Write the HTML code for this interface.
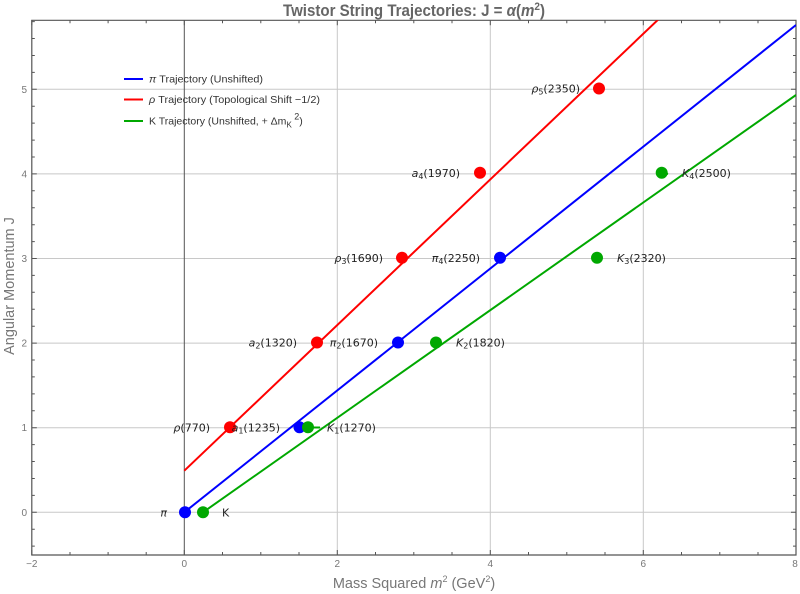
<!DOCTYPE html>
<html><head><meta charset="utf-8"><style>
html,body{margin:0;padding:0;background:#fff;}
svg{display:block;}
.tk{font-family:"Liberation Sans",sans-serif;font-size:10px;fill:#777;}
.lab{font-family:"DejaVu Sans",sans-serif;font-size:11px;fill:#222;}
.leg{font-family:"Liberation Sans",sans-serif;font-size:10.5px;fill:#333;}
</style></head><body>
<svg width="800" height="594" viewBox="0 0 800 594" xmlns="http://www.w3.org/2000/svg">
<defs><clipPath id="pc"><rect x="32" y="20.3" width="764" height="734.7"/></clipPath></defs>
<rect width="800" height="594" fill="#fff"/>
<!-- grid -->
<g stroke="#c8c8c8" stroke-width="1">
<line x1="337.3" y1="20.3" x2="337.3" y2="555"/>
<line x1="490.3" y1="20.3" x2="490.3" y2="555"/>
<line x1="643.3" y1="20.3" x2="643.3" y2="555"/>
<line x1="32" y1="512.3" x2="796" y2="512.3"/>
<line x1="32" y1="427.7" x2="796" y2="427.7"/>
<line x1="32" y1="343.1" x2="796" y2="343.1"/>
<line x1="32" y1="258.5" x2="796" y2="258.5"/>
<line x1="32" y1="173.9" x2="796" y2="173.9"/>
<line x1="32" y1="89.3" x2="796" y2="89.3"/>
</g>
<line x1="184.3" y1="20.3" x2="184.3" y2="555" stroke="#555" stroke-width="1"/>
<!-- frame -->
<g stroke="#555" stroke-width="1.2" fill="none">
<path d="M31.8 20.3 H796 V555 H31.8 Z"/>
</g>
<!-- ticks -->
<g stroke="#555" stroke-width="1">
<path d="M31.8 555v-5M184.3 555v-5M337.3 555v-5M490.3 555v-5M643.3 555v-5M796 555v-5
M31.8 20.3v5M184.3 20.3v5M337.3 20.3v5M490.3 20.3v5M643.3 20.3v5M796 20.3v5"/>
<path d="M70 555v-3M108.1 555v-3M146.2 555v-3M222.5 555v-3M260.8 555v-3M299 555v-3M375.5 555v-3M413.8 555v-3M452 555v-3M528.5 555v-3M566.8 555v-3M605 555v-3M681.5 555v-3M719.8 555v-3M758 555v-3
M70 20.3v3M108.1 20.3v3M146.2 20.3v3M222.5 20.3v3M260.8 20.3v3M299 20.3v3M375.5 20.3v3M413.8 20.3v3M452 20.3v3M528.5 20.3v3M566.8 20.3v3M605 20.3v3M681.5 20.3v3M719.8 20.3v3M758 20.3v3"/>
<path d="M31.8 512.3h5M31.8 427.7h5M31.8 343.1h5M31.8 258.5h5M31.8 173.9h5M31.8 89.3h5
M796 512.3h-5M796 427.7h-5M796 343.1h-5M796 258.5h-5M796 173.9h-5M796 89.3h-5"/>
<path d="M31.8 546.1h3M31.8 529.2h3M31.8 495.4h3M31.8 478.5h3M31.8 461.5h3M31.8 444.6h3M31.8 410.8h3M31.8 393.9h3M31.8 376.9h3M31.8 360h3M31.8 326.2h3M31.8 309.3h3M31.8 292.3h3M31.8 275.4h3M31.8 241.6h3M31.8 224.7h3M31.8 207.7h3M31.8 190.8h3M31.8 157h3M31.8 140.1h3M31.8 123.1h3M31.8 106.2h3M31.8 72.4h3M31.8 55.5h3M31.8 38.5h3M31.8 21.6h3
M796 546.1h-3M796 529.2h-3M796 495.4h-3M796 478.5h-3M796 461.5h-3M796 444.6h-3M796 410.8h-3M796 393.9h-3M796 376.9h-3M796 360h-3M796 326.2h-3M796 309.3h-3M796 292.3h-3M796 275.4h-3M796 241.6h-3M796 224.7h-3M796 207.7h-3M796 190.8h-3M796 157h-3M796 140.1h-3M796 123.1h-3M796 106.2h-3M796 72.4h-3M796 55.5h-3M796 38.5h-3"/>
</g>
<!-- tick labels -->
<g class="tk" text-anchor="middle">
<text x="31.8" y="567">−2</text>
<text x="184.3" y="567">0</text>
<text x="337.3" y="567">2</text>
<text x="490.3" y="567">4</text>
<text x="643.3" y="567">6</text>
<text x="795" y="567">8</text>
</g>
<g class="tk" text-anchor="end">
<text x="27" y="515.8">0</text>
<text x="27" y="431.2">1</text>
<text x="27" y="346.6">2</text>
<text x="27" y="262">3</text>
<text x="27" y="177.4">4</text>
<text x="27" y="92.8">5</text>
</g>
<!-- lines -->
<g clip-path="url(#pc)" stroke-width="2" fill="none">
<line x1="184.3" y1="470.7" x2="684" y2="-5" stroke="#ff0000"/>
<line x1="184.3" y1="512.3" x2="796" y2="25" stroke="#0000ff"/>
<line x1="203" y1="512.3" x2="796" y2="95" stroke="#00a800"/>
<line x1="308" y1="427.5" x2="320" y2="427.5" stroke="#00a800"/>
<line x1="662" y1="172.5" x2="668" y2="174" stroke="#00a800"/>
</g>
<!-- points -->
<g>
<circle cx="185" cy="512.3" r="6" fill="#0000ff"/>
<circle cx="203" cy="512.3" r="6" fill="#00a800"/>
<circle cx="230" cy="427.3" r="6" fill="#ff0000"/>
<circle cx="299.5" cy="427.3" r="6" fill="#0000ff"/>
<circle cx="308" cy="427.3" r="6" fill="#00a800"/>
<circle cx="317" cy="342.5" r="6" fill="#ff0000"/>
<circle cx="398" cy="342.5" r="6" fill="#0000ff"/>
<circle cx="436" cy="342.5" r="6" fill="#00a800"/>
<circle cx="402" cy="257.8" r="6" fill="#ff0000"/>
<circle cx="500" cy="257.8" r="6" fill="#0000ff"/>
<circle cx="597" cy="257.8" r="6" fill="#00a800"/>
<circle cx="480" cy="172.8" r="6" fill="#ff0000"/>
<circle cx="661.7" cy="172.8" r="6" fill="#00a800"/>
<circle cx="599" cy="88.5" r="6" fill="#ff0000"/>
</g>
<!-- data labels -->
<g class="lab">
<text x="167" y="516.3" text-anchor="end" font-style="italic">π</text>
<text x="222" y="516.3">K</text>
<text x="210" y="431.5" text-anchor="end"><tspan font-style="italic">ρ</tspan>(770)</text>
<text x="280" y="431.5" text-anchor="end"><tspan font-style="italic">a</tspan><tspan font-size="8" dy="2">1</tspan><tspan dy="-2">(1235)</tspan></text>
<text x="327" y="431.5"><tspan font-style="italic">K</tspan><tspan font-size="8" dy="2">1</tspan><tspan dy="-2">(1270)</tspan></text>
<text x="297" y="346.5" text-anchor="end"><tspan font-style="italic">a</tspan><tspan font-size="8" dy="2">2</tspan><tspan dy="-2">(1320)</tspan></text>
<text x="378" y="346.5" text-anchor="end"><tspan font-style="italic">π</tspan><tspan font-size="8" dy="2">2</tspan><tspan dy="-2">(1670)</tspan></text>
<text x="456" y="346.5"><tspan font-style="italic">K</tspan><tspan font-size="8" dy="2">2</tspan><tspan dy="-2">(1820)</tspan></text>
<text x="383" y="261.8" text-anchor="end"><tspan font-style="italic">ρ</tspan><tspan font-size="8" dy="2">3</tspan><tspan dy="-2">(1690)</tspan></text>
<text x="480" y="261.8" text-anchor="end"><tspan font-style="italic">π</tspan><tspan font-size="8" dy="2">4</tspan><tspan dy="-2">(2250)</tspan></text>
<text x="617" y="261.8"><tspan font-style="italic">K</tspan><tspan font-size="8" dy="2">3</tspan><tspan dy="-2">(2320)</tspan></text>
<text x="460" y="176.8" text-anchor="end"><tspan font-style="italic">a</tspan><tspan font-size="8" dy="2">4</tspan><tspan dy="-2">(1970)</tspan></text>
<text x="682" y="176.8"><tspan font-style="italic">K</tspan><tspan font-size="8" dy="2">4</tspan><tspan dy="-2">(2500)</tspan></text>
<text x="580" y="92.5" text-anchor="end"><tspan font-style="italic">ρ</tspan><tspan font-size="8" dy="2">5</tspan><tspan dy="-2">(2350)</tspan></text>
</g>
<!-- legend -->
<g stroke-width="2">
<line x1="124" y1="79" x2="143" y2="79" stroke="#0000ff"/>
<line x1="124" y1="99.5" x2="143" y2="99.5" stroke="#ff0000"/>
<line x1="124" y1="121" x2="143" y2="121" stroke="#00a800"/>
</g>
<g class="leg">
<text x="149" y="82.5" textLength="114" lengthAdjust="spacingAndGlyphs"><tspan font-style="italic">π</tspan> Trajectory (Unshifted)</text>
<text x="149" y="103" textLength="171" lengthAdjust="spacingAndGlyphs"><tspan font-style="italic">ρ</tspan> Trajectory (Topological Shift −1/2)</text>
<text x="149" y="124.5">K Trajectory (Unshifted, + Δm<tspan font-size="8" dy="3">K</tspan><tspan dy="-8" font-size="9"> 2</tspan><tspan dy="5">)</tspan></text>
</g>
<!-- title -->
<text x="414" y="16" text-anchor="middle" font-family="Liberation Sans, sans-serif" font-weight="bold" font-size="16.5" fill="#666" textLength="262" lengthAdjust="spacingAndGlyphs">Twistor String Trajectories: J = <tspan font-style="italic">α</tspan>(<tspan font-style="italic">m</tspan><tspan font-size="11" dy="-6">2</tspan><tspan dy="6">)</tspan></text>
<!-- axis labels -->
<text x="414" y="588" text-anchor="middle" font-family="Liberation Sans, sans-serif" font-size="14.5" fill="#777">Mass Squared <tspan font-style="italic">m</tspan><tspan font-size="9" dy="-6">2</tspan><tspan dy="6"> (GeV</tspan><tspan font-size="9" dy="-6">2</tspan><tspan dy="6">)</tspan></text>
<text transform="translate(14,286) rotate(-90)" text-anchor="middle" font-family="Liberation Sans, sans-serif" font-size="14.5" fill="#777">Angular Momentum J</text>
</svg>
</body></html>
